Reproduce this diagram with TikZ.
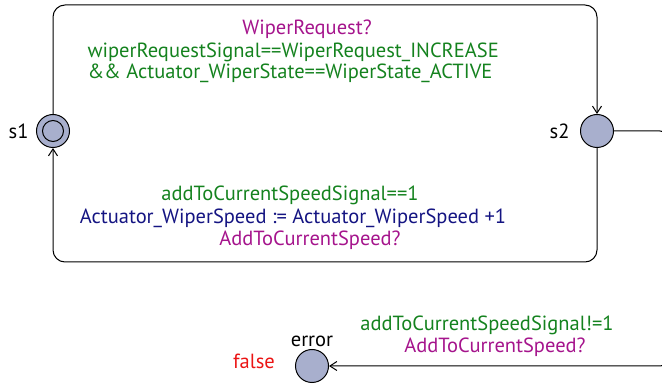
\documentclass[tikz,border=0pt]{standalone}
\usepackage{fontspec}
\setmainfont{PT Sans}
\usetikzlibrary{arrows.meta}

\definecolor{locfill}{RGB}{168,175,205}
\definecolor{guardcol}{RGB}{20,130,30}
\definecolor{synccol}{RGB}{165,20,140}
\definecolor{assigncol}{RGB}{20,20,130}
\definecolor{invcol}{RGB}{235,20,20}

\begin{document}
\begin{tikzpicture}[x=1pt,y=-1pt,
    font=\fontsize{20.5}{21}\selectfont,
    loc/.style={circle,draw,line width=1pt,fill=locfill,minimum size=33pt,inner sep=0pt},
    edge/.style={draw,line width=1pt,rounded corners=12pt,-{Straight Barb[length=7pt,width=9pt]}},
    guard/.style={text=guardcol,align=left},
    sync/.style={text=synccol},
    assign/.style={text=assigncol}]
  \useasboundingbox (0,0) rectangle (662,387);

  % locations
  \node[loc,label={[label distance=4pt]left:s1}] (s1) at (53,131) {};
  \draw[line width=1pt] (s1.center) circle (10.5pt);
  \node[loc,label={[label distance=7pt]left:s2}] (s2) at (597,131) {};
  \node[loc,label={[label distance=-1pt]above:error}] (error) at (312,366) {};
  \node[text=invcol] (inv) at (254,361) {false};

  % s1 -> s2
  \draw[edge] (s1.north) -- (53,5) -- (597,5) -- (s2.north);
  \node[sync] (sync1) at (307,29) {WiperRequest?};
  \node[guard,anchor=west] (guard1) at (84,63)
    {wiperRequestSignal==WiperRequest\_INCREASE\\\&\& Actuator\_WiperState==WiperState\_ACTIVE};

  % s2 -> s1
  \draw[edge] (s2.south) -- (597,262) -- (53,262) -- (s1.south);
  \node[guard] (guard2) at (290,195) {addToCurrentSpeedSignal==1};
  \node[assign] (assign2) at (293,218) {Actuator\_WiperSpeed := Actuator\_WiperSpeed +1};
  \node[sync] (sync2) at (310,240) {AddToCurrentSpeed?};

  % s2 -> error
  \draw[edge] (s2.east) -- (672,131) -- (672,366) -- (error.east);
  \node[guard] (guard3) at (487,325) {addToCurrentSpeedSignal!=1};
  \node[sync] (sync3) at (495,347) {AddToCurrentSpeed?};
\end{tikzpicture}
\end{document}
